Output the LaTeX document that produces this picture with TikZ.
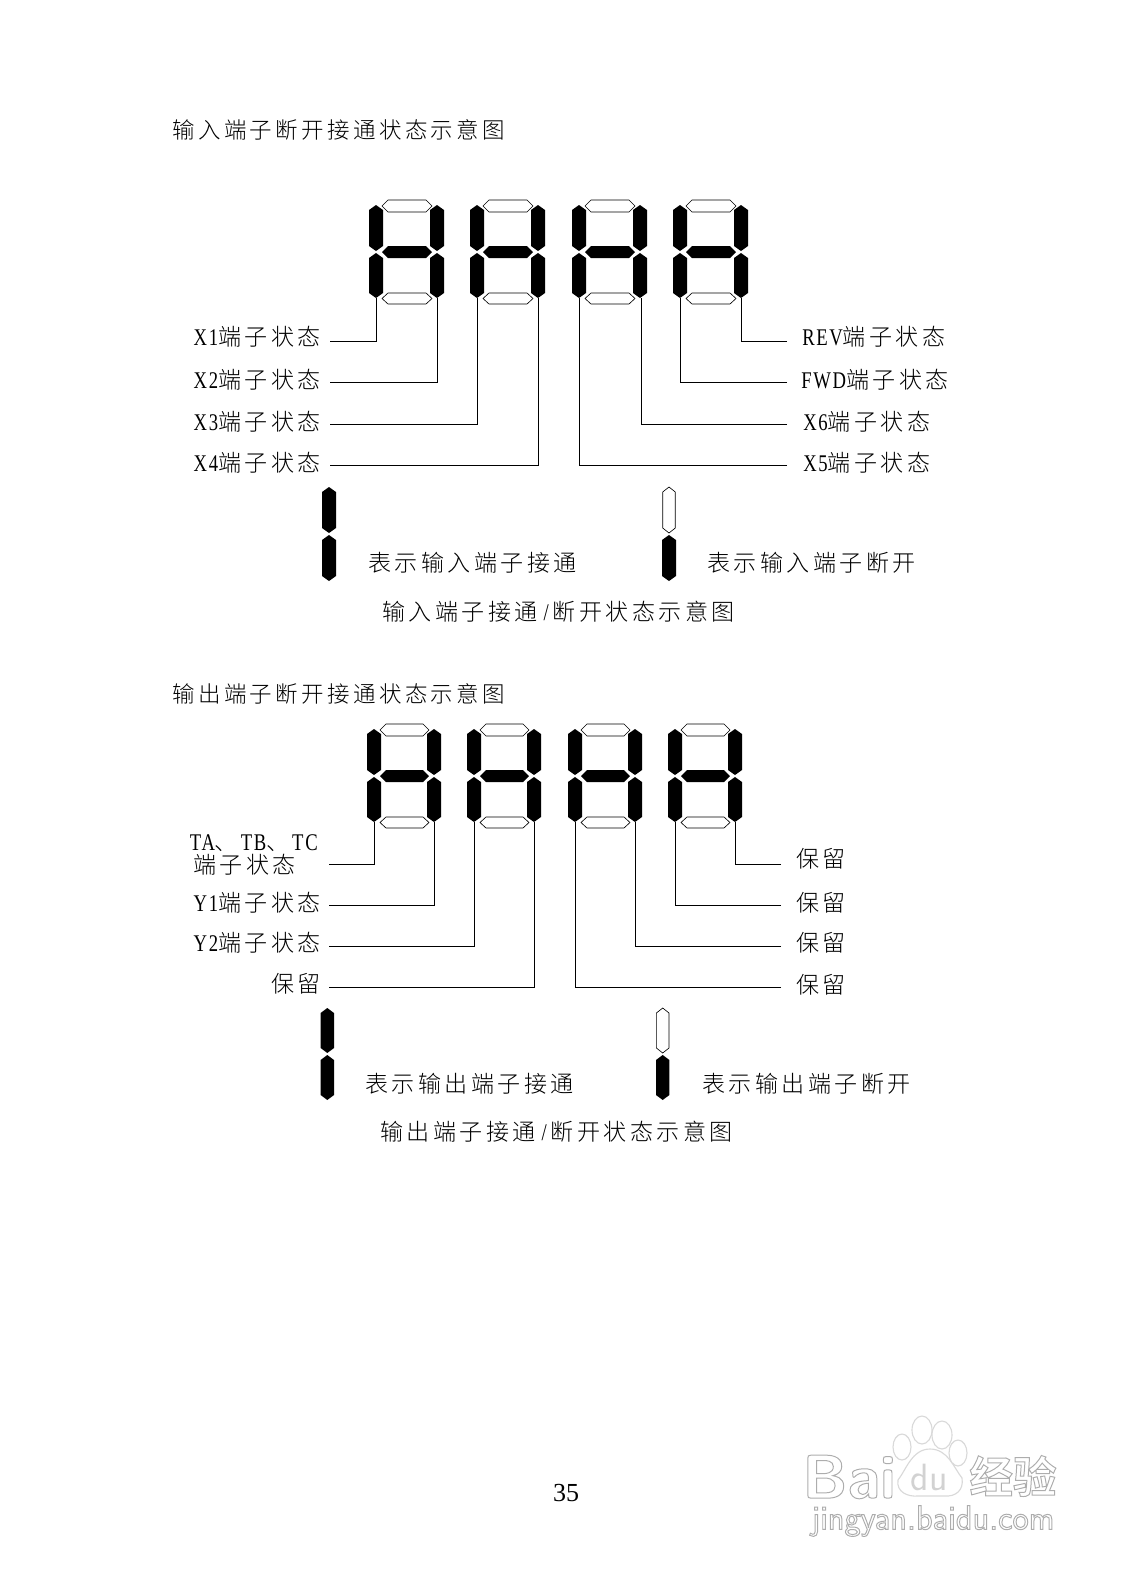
\documentclass[tikz,border=0pt]{standalone}
\usepackage{fontspec}
\setmainfont{Liberation Serif}
\newfontfamily\cjkfont[LetterSpace=15]{Noto Sans CJK SC Light}
\newfontfamily\wmfont{Noto Sans CJK SC Bold}
\newfontfamily\latfont[FakeStretch=0.78,LetterSpace=7]{Liberation Serif}
\usepackage{tikz}
\usetikzlibrary{calc}
\newcommand{\zh}[1]{{\cjkfont\fontsize{16.4pt}{18pt}\selectfont #1}}
\newcommand{\zhtitle}[1]{{\cjkfont\fontsize{16pt}{18pt}\selectfont #1}}
\newcommand{\lat}[1]{{\latfont\fontsize{17pt}{18pt}\selectfont #1}}
% outlined watermark text
\newcommand{\wmc}[1]{\special{pdf: code q 1 Tr 0.7 w 0.68 G}#1\special{pdf: code Q}}
% one upright bar, one flat bar
\newcommand{\segv}[5]{\draw[#1] (#2,#3)--(#2+#5,#3+5)--(#2+#5,#4-5)--(#2,#4)--(#2-#5,#4-5)--(#2-#5,#3+5)--cycle;}
\newcommand{\segh}[5]{\draw[#1] (#2,#3/2+#4/2)--(#2+6,#3)--(#5-11,#3)--(#5-5,#3/2+#4/2)--(#5-11,#4)--(#2+6,#4)--cycle;}
% a digit: origin at the left bars, top of the top bar
\newcommand{\sevenseg}[3]{
\begin{scope}[shift={(#1,#2)}]
\segh{segoff}{6}{0}{12}{#3}
\segh{segon}{6}{46}{58}{#3}
\segh{segoff}{6}{93}{104}{#3}
\segv{segon}{0}{5}{51}{7}
\segv{segon}{0}{53}{98}{7}
\segv{segon}{#3}{5}{51}{7}
\segv{segon}{#3}{53}{98}{7}
\end{scope}}
\tikzset{
segon/.style={fill=black,draw=none},
segoff/.style={fill=white,draw=black,line width=0.45pt},
wire/.style={draw=black,line width=0.7pt},
lbl/.style={inner sep=0pt,text height=16pt,text depth=4pt},
lblr/.style={lbl,anchor=east},
lbll/.style={lbl,anchor=west},
wmline/.style={draw=gray!30,fill=white,line width=0.8pt},
wmtext/.style={inner sep=0pt}
}
\begin{document}
\begin{tikzpicture}[x=0.25mm,y=-0.25mm,line join=miter]
\useasboundingbox (0,0) rectangle (1132,1584);
% watermark
\node[wmtext,font=\fontsize{44pt}{50pt}\sffamily\bfseries] (wmbai) at (849,1477) {\wmc{Bai}};
\draw[wmline] (930,1449) .. controls (912,1449) and (906,1470) .. (898,1480) .. controls (896,1492) and (908,1497) .. (918,1496) -- (944,1496) .. controls (956,1497) and (964,1490) .. (962,1478) .. controls (954,1468) and (948,1449) .. (930,1449) -- cycle;
\draw[wmline] (922,1430) ellipse (10 and 14);
\draw[wmline] (942,1435) ellipse (10 and 14);
\draw[wmline] (902,1447) ellipse (9 and 13);
\draw[wmline] (958,1453) ellipse (9 and 13);
\node[wmtext,font=\fontsize{27pt}{30pt}\sffamily,text=gray!35] (wmdu) at (929,1477) {du};
\node[wmtext,font=\fontsize{31pt}{34pt}\wmfont] (wmjy) at (1013,1476) {\wmc{经验}};
\node[wmtext,font=\fontsize{24.5pt}{28pt}\sffamily] (wmurl) at (933,1521) {\wmc{jingyan.baidu.com}};
% upper block
\node[lbll] (title1) at (172,130) {\zhtitle{输入端子断开接通状态示意图}};
\sevenseg{376}{200}{61}
\sevenseg{477}{200}{61}
\sevenseg{579}{200}{61}
\sevenseg{680}{200}{61}
\coordinate (a1) at (376,298);
\coordinate (a2) at (437,298);
\coordinate (a3) at (477,298);
\coordinate (a4) at (538,298);
\coordinate (a5) at (579,298);
\coordinate (a6) at (641,298);
\coordinate (a7) at (680,298);
\coordinate (a8) at (741,298);
\node[lblr] (x1) at (321,337) {\lat{X1}\zh{端子状态}};
\node[lblr] (x2) at (321,380) {\lat{X2}\zh{端子状态}};
\node[lblr] (x3) at (321,422) {\lat{X3}\zh{端子状态}};
\node[lblr] (x4) at (321,463) {\lat{X4}\zh{端子状态}};
\node[lbll] (rev) at (802,337) {\lat{REV}\zh{端子状态}};
\node[lbll] (fwd) at (801,380) {\lat{FWD}\zh{端子状态}};
\node[lbll] (x6) at (803,422) {\lat{X6}\zh{端子状态}};
\node[lbll] (x5) at (803,463) {\lat{X5}\zh{端子状态}};
\draw[wire] (x1.east) ++(9,4) -| (a1);
\draw[wire] (x2.east) ++(9,2) -| (a2);
\draw[wire] (x3.east) ++(9,2) -| (a3);
\draw[wire] (x4.east) ++(9,2) -| (a4);
\draw[wire] (rev.west) ++(-15,4) -| (a8);
\draw[wire] (fwd.west) ++(-14,2) -| (a7);
\draw[wire] (x6.west) ++(-16,2) -| (a6);
\draw[wire] (x5.west) ++(-16,2) -| (a5);
\segv{segon}{329}{487}{533}{7}
\segv{segon}{329}{535}{581}{7}
\segv{segoff}{669}{487}{533}{6.3}
\segv{segon}{669}{535}{581}{7}
\node[lbll] (on1) at (368,563) {\zh{表示输入端子接通}};
\node[lbll] (off1) at (707,563) {\zh{表示输入端子断开}};
\node[lbll] (cap1) at (382,612) {\zh{输入端子接通}\kern4pt\lat{/}\kern3pt\zh{断开状态示意图}};
% lower block
\node[lbll] (title2) at (172,694) {\zhtitle{输出端子断开接通状态示意图}};
\sevenseg{374}{724}{60}
\sevenseg{474}{724}{60}
\sevenseg{575}{724}{60}
\sevenseg{675}{724}{60}
\coordinate (b1) at (374,822);
\coordinate (b2) at (434,822);
\coordinate (b3) at (474,822);
\coordinate (b4) at (534,822);
\coordinate (b5) at (575,822);
\coordinate (b6) at (635,822);
\coordinate (b7) at (675,822);
\coordinate (b8) at (735,822);
\node[lblr] (ta) at (318,842) {\lat{TA}\zh{、}\kern2pt\lat{TB}\zh{、}\kern2pt\lat{TC}};
\node[lbll] (tb) at (193,865) {\zh{端子状态}};
\node[lblr] (y1) at (321,903) {\lat{Y1}\zh{端子状态}};
\node[lblr] (y2) at (321,943) {\lat{Y2}\zh{端子状态}};
\node[lblr] (r1) at (321,984) {\zh{保留}};
\node[lbll] (r2) at (796,859) {\zh{保留}};
\node[lbll] (r3) at (796,903) {\zh{保留}};
\node[lbll] (r4) at (796,943) {\zh{保留}};
\node[lbll] (r5) at (796,985) {\zh{保留}};
\draw[wire] (tb.east) ++(33,-1) -| (b1);
\draw[wire] (y1.east) ++(8,2) -| (b2);
\draw[wire] (y2.east) ++(8,3) -| (b3);
\draw[wire] (r1.east) ++(8,3) -| (b4);
\draw[wire] (r2.west) ++(-15,5) -| (b8);
\draw[wire] (r3.west) ++(-15,2) -| (b7);
\draw[wire] (r4.west) ++(-15,3) -| (b6);
\draw[wire] (r5.west) ++(-15,2) -| (b5);
\segv{segon}{327.3}{1008}{1053}{6.7}
\segv{segon}{327.3}{1055}{1100}{6.7}
\segv{segoff}{662.7}{1008}{1053}{6.3}
\segv{segon}{662.7}{1055}{1100}{6.7}
\node[lbll] (on2) at (365,1084) {\zh{表示输出端子接通}};
\node[lbll] (off2) at (702,1084) {\zh{表示输出端子断开}};
\node[lbll] (cap2) at (380,1132) {\zh{输出端子接通}\kern4pt\lat{/}\kern3pt\zh{断开状态示意图}};
\node[font=\fontsize{18.5pt}{20pt}\selectfont,inner sep=0pt] (page) at (566,1493) {35};
\end{tikzpicture}
\end{document}
